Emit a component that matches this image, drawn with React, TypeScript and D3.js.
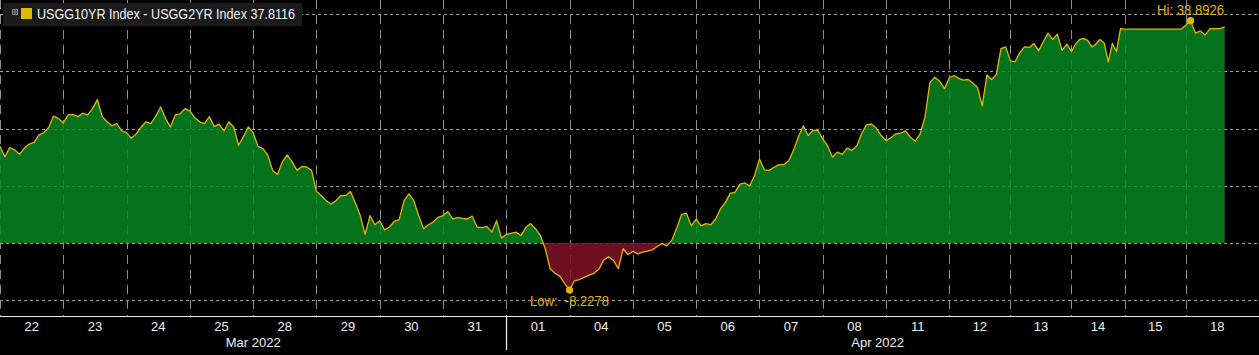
import React from "react";
import * as d3 from "d3";

// ---- data ----
const dayLabels = ["22","23","24","25","28","29","30","31","01","04","05","06","07","08","11","12","13","14","15","18"];
// relative session lengths (trading time) of each day
const sessionWeights = [1,1,1,1,1,1,1,1,1,1,1,1,1,1,1,0.965,0.965,0.84,0.965,1];
const monthLabels = ["Mar 2022", "Apr 2022"];
const monthFirstDay = [0, 8];
const samplesPerSession = 13;
const yTicks = [-10, 0, 10, 20, 30, 40];
const seriesName = "USGG10YR Index - USGG2YR Index";

// USGG10YR - USGG2YR spread (bp), intraday samples per day
const spreadByDay: number[][] = [
  [16.9, 15.1, 16.7, 16.3, 15.5, 16.6, 17.3, 17.6, 18.9, 19.3, 20.2, 22.2, 21.8],
  [21.0, 22.4, 22.5, 22.1, 22.7, 22.4, 23.5, 25.1, 22.1, 21.2, 20.5, 20.9, 19.6],
  [19.3, 18.3, 19.1, 20.3, 21.2, 20.9, 22.2, 23.8, 21.8, 20.3, 22.4, 22.6, 23.5],
  [23.1, 21.9, 21.2, 20.9, 22.1, 20.4, 20.8, 19.6, 21.2, 20.3, 17.1, 18.6, 20.3],
  [19.3, 16.9, 16.5, 15.4, 12.7, 12.0, 14.2, 15.4, 14.2, 12.7, 13.4, 13.3, 12.7],
  [9.0, 8.3, 7.4, 6.8, 7.4, 8.3, 8.3, 9.0, 7.0, 4.8, 1.5, 4.8, 3.2],
  [3.9, 2.3, 2.8, 3.8, 4.1, 7.4, 8.6, 7.4, 4.8, 2.5, 3.2, 3.7, 4.5],
  [4.8, 5.5, 4.2, 4.5, 4.3, 4.2, 4.7, 2.8, 2.7, 2.9, 1.9, 3.9, 0.9],
  [1.5, 1.7, 1.9, 1.3, 2.7, 3.4, 2.5, 1.3, -1.0, -4.5, -5.3, -5.8, -7.1],
  [-8.2278, -6.6, -6.4, -6.0, -5.6, -5.3, -4.6, -3.0, -2.4, -3.0, -4.5, -1.0, -2.0],
  [-1.45, -1.9, -1.6, -1.4, -1.2, -0.6, -0.1, -0.5, 0.5, 2.6, 5.0, 5.2, 3.0],
  [4.2, 3.0, 3.4, 3.2, 4.2, 6.0, 7.1, 8.7, 8.9, 10.3, 10.5, 10.0, 11.8],
  [14.7, 12.8, 12.7, 13.25, 13.7, 13.7, 14.4, 16.2, 18.6, 20.5, 18.8, 19.7, 19.7],
  [18.2, 17.0, 15.0, 15.9, 15.5, 16.6, 16.2, 17.0, 19.2, 20.7, 20.8, 20.1, 18.8],
  [17.9, 18.4, 19.1, 19.2, 19.6, 18.5, 17.8, 19.1, 22.0, 28.0, 29.0, 28.3, 27.0],
  [28.9, 29.3, 28.8, 28.5, 28.6, 28.0, 27.2, 24.0, 29.4, 28.6, 29.5, 34.0, 34.3],
  [31.9, 31.7, 33.3, 34.3, 34.2, 34.9, 33.6, 35.2, 36.7, 35.6, 36.5, 33.7, 34.8],
  [33.5, 34.8, 35.6, 35.8, 35.4, 34.3, 34.8, 35.6, 35.0, 31.7, 34.9, 33.5, 37.5],
  [37.4, 37.4, 37.4, 37.4, 37.4, 37.4, 37.4, 37.4, 37.4, 37.4, 37.4, 37.4, 37.4],
  [38.1, 38.8926, 36.7, 37.1, 36.4, 37.5, 37.5, 37.5, 37.8116],
];

type Pt = { t: number; v: number };

export default function App() {
  React.useEffect(() => {
    document.body.style.margin = "0";
    document.body.style.background = "#000";
  }, []);

  const W = 1259, H = 355;
  const plotRight = 1249;
  const axisY = 316.5;

  const starts = Array.from(d3.cumsum([0, ...sessionWeights]));
  const x = d3.scaleLinear().domain([0, d3.sum(sessionWeights)]).range([0, plotRight]);
  const y = d3.scaleLinear().domain([-10, 40]).range([300.2, 14.3]);

  const points: Pt[] = spreadByDay.flatMap((vals, i) =>
    vals.map((v, j) => ({ t: starts[i] + (j / samplesPerSession) * sessionWeights[i], v }))
  );

  const area = d3.area<Pt>().x(d => x(d.t)).y0(y(0)).y1(d => y(d.v));
  const line = d3.line<Pt>().x(d => x(d.t)).y(d => y(d.v));

  const hi = d3.greatest(points, d => d.v)!;
  const lo = d3.least(points, d => d.v)!;
  const last = points[points.length - 1];

  const font = "'Liberation Sans', Arial, sans-serif";
  const gold = "#e2b600";

  return (
    <svg width={W} height={H} style={{ display: "block", background: "#000" }}>
      <defs>
        <clipPath id="pos"><rect x={0} y={0} width={W} height={y(0)} /></clipPath>
        <clipPath id="neg"><rect x={0} y={y(0)} width={W} height={H - y(0)} /></clipPath>
      </defs>
      <rect x={0} y={0} width={W} height={H} fill="#000" />

      {/* horizontal grid */}
      {yTicks.map(t => (
        <line key={"h" + t} x1={0} x2={W} y1={Math.round(y(t)) + 0.5} y2={Math.round(y(t)) + 0.5}
          stroke="#a0a0a0" strokeWidth={1} strokeDasharray="3,3" />
      ))}
      {/* vertical grid at day boundaries */}
      {starts.slice(0, dayLabels.length).map((s, i) => (
        <line key={"v" + i} x1={Math.round(x(s)) + 0.5} x2={Math.round(x(s)) + 0.5} y1={0} y2={axisY}
          stroke="#8e8e8e" strokeWidth={1} strokeDasharray="9,6" />
      ))}

      {/* fills */}
      <path d={area(points)!} fill="#05861f" fillOpacity={0.86} clipPath="url(#pos)" />
      <path d={area(points)!} fill="#7e1226" fillOpacity={0.86} clipPath="url(#neg)" />
      <path d={line(points)!} fill="none" stroke={gold} strokeWidth={1.3} strokeLinejoin="round" />

      {/* hi / low markers */}
      <circle cx={x(hi.t)} cy={y(hi.v)} r={3.6} fill={gold} />
      <text x={x(hi.t)} y={y(hi.v) - 5.5} textAnchor="middle" fill={gold} fontFamily={font} fontSize={14}
        textLength={67} lengthAdjust="spacingAndGlyphs">{`Hi: ${hi.v.toFixed(4)}`}</text>
      <circle cx={x(lo.t)} cy={y(lo.v)} r={3.6} fill={gold} />
      <text x={x(lo.t)} y={y(lo.v) + 16} textAnchor="middle" fill={gold} fontFamily={font} fontSize={14}
        textLength={79} lengthAdjust="spacingAndGlyphs" xmlSpace="preserve">{`Low:  ${lo.v.toFixed(4)}`}</text>

      {/* legend */}
      <rect x={3} y={3} width={299} height={23} fill="#1b1b1b" />
      <rect x={12.5} y={9.5} width={5} height={5} fill="none" stroke="#8a8a8a" strokeWidth={1} />
      <line x1={13} x2={17} y1={12} y2={12} stroke="#8a8a8a" strokeWidth={1} />
      <line x1={15} x2={15} y1={10} y2={14} stroke="#8a8a8a" strokeWidth={1} />
      <rect x={21} y={8} width={11} height={11} fill="#e0b800" />
      <text x={37} y={19} fill="#f2f2f2" fontFamily={font} fontSize={14}
        textLength={258} lengthAdjust="spacingAndGlyphs">{`${seriesName} ${last.v.toFixed(4)}`}</text>

      {/* x axis */}
      <line x1={0} x2={W} y1={axisY} y2={axisY} stroke="#e8e8e8" strokeWidth={1} />
      {dayLabels.map((d, i) => (
        <text key={"d" + i} x={x(starts[i] + sessionWeights[i] / 2)} y={331} textAnchor="middle"
          fill="#f0f0f0" fontFamily={font} fontSize={13}>{d}</text>
      ))}
      {monthLabels.map((m, k) => {
        const a = starts[monthFirstDay[k]];
        const b = k + 1 < monthFirstDay.length ? starts[monthFirstDay[k + 1]] : starts[dayLabels.length];
        return (
          <text key={"m" + k} x={x((a + b) / 2)} y={347} textAnchor="middle" fill="#f0f0f0"
            fontFamily={font} fontSize={13}>{m}</text>
        );
      })}
      {monthFirstDay.slice(1).map((f, k) => (
        <line key={"ms" + k} x1={Math.round(x(starts[f])) + 0.5} x2={Math.round(x(starts[f])) + 0.5}
          y1={axisY} y2={350} stroke="#f0f0f0" strokeWidth={1.2} />
      ))}
    </svg>
  );
}
